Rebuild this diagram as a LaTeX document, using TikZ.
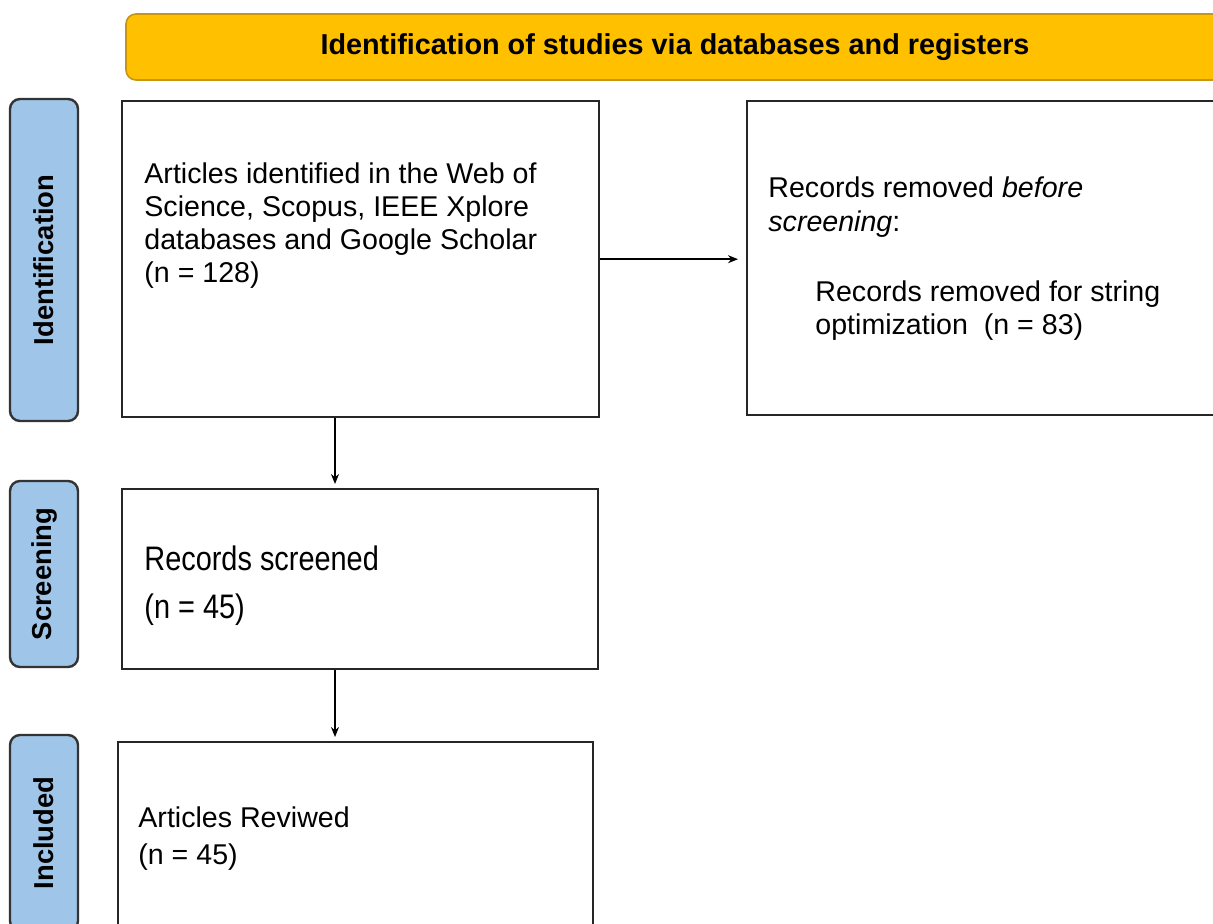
\documentclass[tikz,border=0pt]{standalone}
\usepackage{fontspec}
\setmainfont{Liberation Sans}
\newfontfamily\narrowfont[FakeStretch=0.85]{Liberation Sans}
\usetikzlibrary{calc}
\usetikzlibrary{arrows.meta}
\definecolor{headgold}{RGB}{255,192,0}
\definecolor{headrim}{RGB}{196,150,20}
\definecolor{phaseblue}{RGB}{159,197,232}

\begin{document}
\begin{tikzpicture}[x=0.5pt,y=-0.5pt,
  box/.style={draw=black!85, line width=1.2pt, anchor=north west, inner sep=0pt},
  phase/.style={draw=black!80, fill=phaseblue, line width=1.2pt, rounded corners=5pt, rotate=90,
    minimum height=34pt, inner sep=0pt, font=\bfseries\fontsize{13.7}{16}\selectfont},
  txt/.style={anchor=base west, align=left, inner sep=0pt, font=\fontsize{14.3}{16.5}\selectfont},
  flow/.style={-{Stealth[length=5pt,width=4pt]}, line width=0.7pt, shorten >=2pt}]
\useasboundingbox (0,0) rectangle (1213,924);
\clip (0,0) rectangle (1213,924);
% banner
\node[draw=headrim, fill=headgold, line width=0.8pt, rounded corners=5pt, minimum width=549pt, minimum height=33pt,
  font=\bfseries\fontsize{14.4}{17}\selectfont] (head) at (675,47) {Identification of studies via databases and registers};
% phase labels on the left
\foreach \n/\y/\h/\t in {idtag/260/161/Identification, sctag/574/93/Screening, intag/833/98/Included} {
 \node[phase, minimum width=\h pt] (\n) at (44,\y) {\t};
}
% boxes
\node[box, minimum width=238.5pt, minimum height=158pt] (ident) at (121,100) {};
\node[box, minimum width=247pt, minimum height=157pt] (removed) at (746,100) {};
\node[box, minimum width=238pt, minimum height=90pt] (screened) at (121,488) {};
\node[box, minimum width=237.5pt, minimum height=110pt] (reviewed) at (117,741) {};
% texts (placed at the baseline of their last line)
\node[txt] (identtxt) at (144,283) {Articles identified in the Web of\\Science, Scopus, IEEE Xplore\\databases and Google Scholar\\(n = 128)};
\node[txt, font=\fontsize{14.3}{17}\selectfont] (removedtxt) at (768,232) {Records removed \textit{before}\\\textit{screening}:};
\node[txt] (stringtxt) at (815,335) {Records removed for string\\optimization\ \ (n = 83)};
\node[txt, font=\narrowfont\fontsize{17}{24}\selectfont] (screentxt) at (144,618) {Records screened\\(n = 45)};
\node[txt, font=\fontsize{14.3}{18.5}\selectfont] (reviewtxt) at (138,864) {Articles Reviwed\\(n = 45)};
% arrows
\draw[flow, shorten >=4pt] (ident.east) -- (ident.east -| removed.west);
\draw[flow] ([xshift=107pt]ident.south west) -- ([xshift=107pt]screened.north west);
\draw[flow] ([xshift=107pt]screened.south west) -- ([xshift=109pt]reviewed.north west);
\end{tikzpicture}
\end{document}
